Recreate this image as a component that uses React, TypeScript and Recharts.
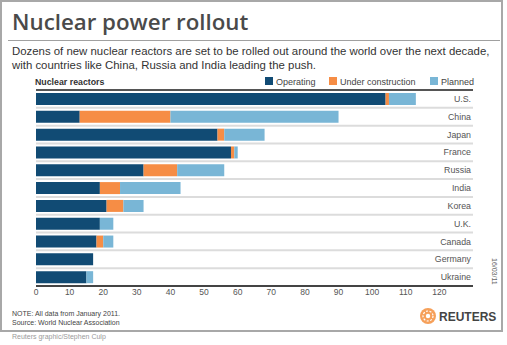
import { Bar, BarChart, CartesianGrid, XAxis, YAxis } from "recharts";

const COUNTRIES = ["U.S.", "China", "Japan", "France", "Russia", "India", "Korea", "U.K.", "Canada", "Germany", "Ukraine"];
const OPERATING = [104, 13, 54, 58, 32, 19, 21, 19, 18, 17, 15];
const UNDER_CONSTRUCTION = [1, 27, 2, 1, 10, 6, 5, 0, 2, 0, 0];
const PLANNED = [8, 50, 12, 1, 14, 18, 6, 4, 3, 0, 2];
const X_TICKS = [0, 10, 20, 30, 40, 50, 60, 70, 80, 90, 100, 110, 120];

const SERIES = [
  { key: "operating", label: "Operating", color: "#114b74", values: OPERATING },
  { key: "construction", label: "Under construction", color: "#f68d45", values: UNDER_CONSTRUCTION },
  { key: "planned", label: "Planned", color: "#79b6d6", values: PLANNED },
];

const data = COUNTRIES.map((country, i) => ({
  country,
  operating: OPERATING[i],
  construction: UNDER_CONSTRUCTION[i],
  planned: PLANNED[i],
}));

const FONT = "'Liberation Sans', Arial, sans-serif";
const LEGEND_X = [265, 329, 430];

export default function App() {
  return (
    <div style={{ position: "absolute", left: 0, top: 0, width: 507, height: 345, background: "#fff", fontFamily: FONT }}>
      <div
        style={{
          position: "absolute",
          left: 0,
          top: 0,
          width: 503,
          height: 332,
          border: "2px solid #a8a8a8",
          boxSizing: "border-box",
        }}
      />
      <div style={{ position: "absolute", left: 0, top: 0 }}>
        <BarChart
          width={507}
          height={345}
          data={data}
          layout="vertical"
          margin={{ top: 90, right: 34, bottom: 39, left: 36 }}
          barSize={12}
        >
          <CartesianGrid
            vertical={false}
            stroke="#dcdcdc"
            strokeWidth={2}
            horizontalCoordinatesGenerator={({ offset }: any) =>
              COUNTRIES.slice(1).map((_, i) => offset.top + ((i + 1) * offset.height) / COUNTRIES.length)
            }
          />
          <CartesianGrid
            vertical={false}
            stroke="#555"
            strokeWidth={2}
            horizontalCoordinatesGenerator={({ offset }: any) => [offset.top]}
          />
          <XAxis
            type="number"
            domain={[0, 130]}
            ticks={X_TICKS}
            interval={0}
            height={20}
            axisLine={{ stroke: "#444", strokeWidth: 2 }}
            tickLine={false}
            tickSize={0}
            tickMargin={3}
            tick={{ fill: "#555", fontSize: 8.5, fontFamily: FONT }}
          />
          <YAxis
            type="category"
            dataKey="country"
            orientation="right"
            mirror
            axisLine={false}
            tickLine={false}
            tickSize={0}
            tickMargin={2}
            tick={{ fill: "#555", fontSize: 8.8, fontFamily: FONT }}
          />
          {SERIES.map((s) => (
            <Bar key={s.key} dataKey={s.key} stackId="a" fill={s.color} isAnimationActive={false} />
          ))}
        </BarChart>
      </div>
      <svg width={507} height={345} style={{ position: "absolute", left: 0, top: 0, pointerEvents: "none" }}>
        <text x={12} y={30} fontFamily="'Open Sans', sans-serif" fontWeight={600} fontSize={22.3} fill="#4a4a4a">
          Nuclear power rollout
        </text>
        <line x1={8} x2={500} y1={40.5} y2={40.5} stroke="#a0a0a0" strokeWidth={1} />
        <text x={12} y={55} fontSize={11.4} fill="#333">
          Dozens of new nuclear reactors are set to be rolled out around the world over the next decade,
        </text>
        <text x={12} y={68.5} fontSize={11.4} fill="#333">
          with countries like China, Russia and India leading the push.
        </text>
        <text x={35} y={85} fontSize={8.8} fontWeight={700} fill="#333">
          Nuclear reactors
        </text>
        {SERIES.map((s, i) => (
          <g key={s.key}>
            <rect x={LEGEND_X[i]} y={77} width={8} height={8} fill={s.color} />
            <text x={LEGEND_X[i] + 11} y={85} fontSize={9} fill="#444">
              {s.label}
            </text>
          </g>
        ))}
        <text
          x={0}
          y={0}
          fontSize={7}
          fill="#666"
          transform="translate(492, 258) rotate(90)"
        >
          16/03/11
        </text>
        <text x={12} y={316} fontSize={7} fill="#444">
          NOTE: All data from January 2011.
        </text>
        <text x={12} y={325} fontSize={7} fill="#444">
          Source: World Nuclear Association
        </text>
        <circle cx={428} cy={316} r={8} fill="#f6a05a" />
        <circle cx={428} cy={316} r={5} fill="none" stroke="#fff" strokeWidth={1.2} strokeDasharray="2 1.5" />
        <circle cx={428} cy={316} r={2.2} fill="#fff" />
        <text x={439} y={320.5} fontSize={12} fontWeight={700} fill="#444">
          REUTERS
        </text>
        <text x={12} y={338.5} fontSize={7} fill="#9a9a9a">
          Reuters graphic/Stephen Culp
        </text>
      </svg>
    </div>
  );
}
